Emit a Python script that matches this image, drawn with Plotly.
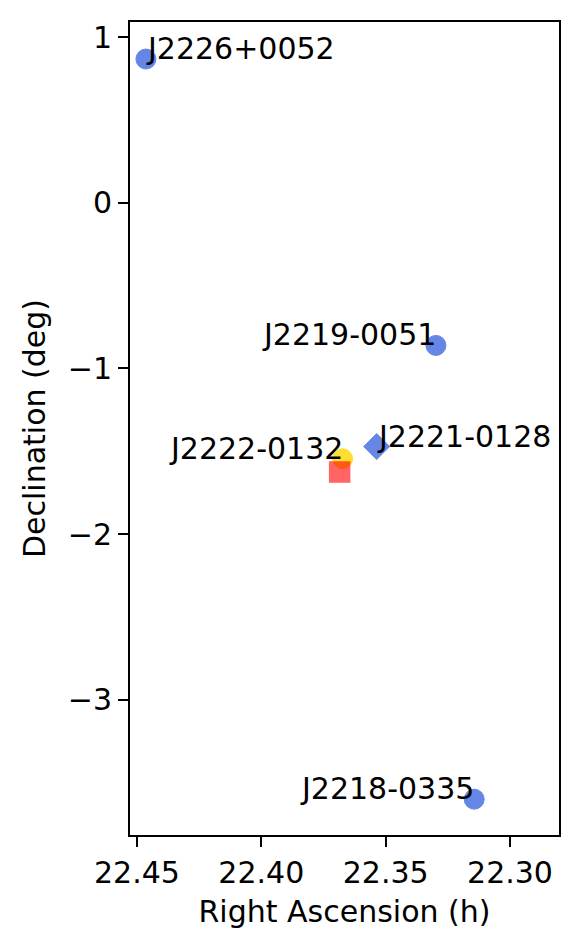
import plotly.graph_objects as go

# positions of the sources (RA in hours, Dec in degrees)
circle_names = ['J2226+0052', 'J2219-0051', 'J2218-0335']
circle_ra = [22.4464, 22.3298, 22.3144]
circle_dec = [0.867, -0.861, -3.599]

diamond_names = ['J2221-0128']
diamond_ra = [22.3536]
diamond_dec = [-1.471]

yellow_names = ['J2222-0132']
yellow_ra = [22.3673]
yellow_dec = [-1.545]

square_ra = [22.3685]
square_dec = [-1.625]

# which side of the point each label goes on
label_side = {'J2226+0052': 'left', 'J2219-0051': 'right', 'J2218-0335': 'right',
              'J2221-0128': 'left', 'J2222-0132': 'right'}

FONT = 'DejaVu Sans'
FS = 30

fig = go.Figure()

fig.add_trace(go.Scatter(
    x=circle_ra, y=circle_dec, mode='markers',
    marker=dict(symbol='circle', size=20, color='royalblue', opacity=0.8,
                line=dict(width=1, color='royalblue')),
))
fig.add_trace(go.Scatter(
    x=diamond_ra, y=diamond_dec, mode='markers',
    marker=dict(symbol='diamond', size=20, color='royalblue', opacity=0.8,
                line=dict(width=1, color='royalblue')),
))
fig.add_trace(go.Scatter(
    x=yellow_ra, y=yellow_dec, mode='markers',
    marker=dict(symbol='circle', size=20, color='gold', opacity=0.8,
                line=dict(width=1, color='gold')),
))
fig.add_trace(go.Scatter(
    x=square_ra, y=square_dec, mode='markers',
    marker=dict(symbol='square', size=20, color='red', opacity=0.6,
                line=dict(width=1.5, color='red')),
))

names = circle_names + diamond_names + yellow_names
ras = circle_ra + diamond_ra + yellow_ra
decs = circle_dec + diamond_dec + yellow_dec
for n, x, y in zip(names, ras, decs):
    side = label_side[n]
    fig.add_annotation(
        x=x, y=y, text=n, showarrow=False,
        xanchor='left' if side == 'left' else 'right',
        yanchor='bottom', yshift=-9,
        xshift=-2 if side == 'left' else 2,
        font=dict(family=FONT, size=FS, color='black'),
    )

axis_common = dict(
    showgrid=False, zeroline=False, showline=True, linecolor='black',
    linewidth=2, mirror=True, ticks='outside', ticklen=10, tickwidth=2,
    tickcolor='black', tickfont=dict(family=FONT, size=FS, color='black'),
    automargin=False,
)

fig.update_xaxes(
    range=[22.4528, 22.2803], tickvals=[22.45, 22.40, 22.35, 22.30],
    ticktext=['22.45', '22.40', '22.35', '22.30'],
    title=dict(text='Right Ascension (h)', font=dict(family=FONT, size=FS, color='black'),
               standoff=12),
    **axis_common,
)
fig.update_yaxes(
    range=[-3.815, 1.0905], tickvals=[1, 0, -1, -2, -3],
    ticktext=['1', '0', '\u22121', '\u22122', '\u22123'],
    title=dict(text='Declination (deg)', font=dict(family=FONT, size=FS, color='black'),
               standoff=13),
    **axis_common,
)

# the page body adds an 8px offset, so margins are shifted to compensate
fig.update_layout(
    width=582, height=951,
    margin=dict(l=122, r=31, t=14, b=124),
    plot_bgcolor='white', paper_bgcolor='white',
    showlegend=False,
)

fig.write_html('out.html')
